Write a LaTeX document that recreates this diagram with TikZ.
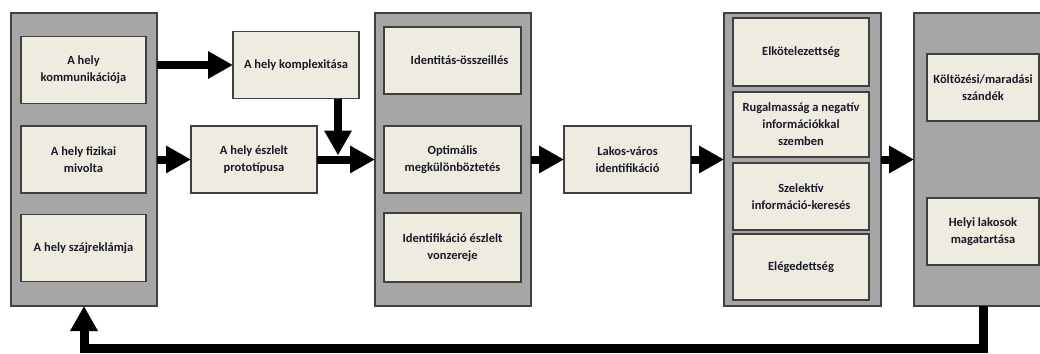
\documentclass[tikz,border=0pt]{standalone}
\usepackage{fontspec}
\setmainfont{Carlito}
\usetikzlibrary{arrows.meta,positioning}
\definecolor{panelgray}{RGB}{166,166,166}
\definecolor{boxfill}{RGB}{238,236,225}
\definecolor{edge}{RGB}{64,64,64}
\definecolor{ink}{RGB}{25,25,40}

\begin{document}
\begin{tikzpicture}[x=1pt,y=-1pt,
    panel/.style={draw=edge,fill=panelgray,line width=1.2pt,minimum width=#1,
                  minimum height=293pt,inner sep=0pt,outer sep=0pt},
    panel/.default=156pt,
    item/.style={draw=edge,fill=boxfill,line width=1.2pt,text=ink,align=center,
                 font=\bfseries\fontsize{12.5}{17}\selectfont,minimum width=#1,
                 minimum height=67pt,inner sep=0pt,outer sep=0pt},
    item/.default=126pt,
    big/.style={line width=8pt,-{Triangle[width=26pt,length=25pt]}}]
   \useasboundingbox (0,0) rectangle (1040,353);
   \clip (0,0) rectangle (1040,353);

   % panels
   \node[panel=146pt] (P1) at (84,159.5)  {};
   \node[panel]       (P2) at (453,159.5) {};
   \node[panel=157pt] (P3) at (802.5,159.5) {};
   \node[panel]       (P4) at (992,159.5) {};

   % first panel
   \node[item=125pt] (kom)  at (83.5,70)    {A hely\\kommunikációja};
   \node[item=125pt] (fiz)  at (83.5,159.5) {A hely fizikai\\mivolta};
   \node[item=125pt] (szaj) at (83.5,248)   {A hely szájreklámja};

   \node[item] (komplex) at (296,65)    {A hely komplexitása};
   \node[item] (proto)   at (254,159.5) {A hely észlelt\\prototípusa};

   % second panel
   \node[item=137pt] (ident) at (452.5,60.5)  {\hspace*{14pt}Identitás-összeillés};
   \node[item=137pt] (optim) at (452.5,159.5) {Optimális\\megkülönböztetés};
   \node[item=137pt,minimum height=69pt] (vonz) at (452.5,247.5) {Identifikáció észlelt\\vonzereje};

   \node[item=127pt] (lakos) at (627.5,159.5) {Lakos-város\\identifikáció};

   % third panel
   \node[item=136pt,minimum height=68pt] (elkot) at (801,52)    {Elkötelezettség};
   \node[item=136pt,minimum height=65pt] (rugal) at (801,124.5) {Rugalmasság a negatív\\információkkal\\szemben};
   \node[item=136pt] (szel)  at (801,196.5) {Szelektív\\információ-keresés};
   \node[item=136pt,minimum height=66pt] (eleg)  at (801,267)   {Elégedettség};

   % fourth panel
   \node[item=112pt] (mov) at (983,87.5)  {Költözési/maradási\\szándék};
   \node[item=112pt] (mag) at (983,231.5) {Helyi lakosok\\magatartása};

   \coordinate (join) at ([xshift=42pt]komplex.south |- proto.east);

   \draw[big] (P1.east |- komplex.west) -- (komplex.west);
   \draw[big] (P1.east) -- (proto.west);
   \draw[big] ([xshift=42pt]komplex.south) -- ([yshift=4pt]join);
   \draw[big] (proto.east) -- (P2.west);
   \draw[big] (P2.east) -- (lakos.west);
   \draw[big] (lakos.east) -- (P3.west);
   \draw[big] (P3.east) -- (P4.west);
   \draw[big,line width=9pt] (mov.south |- P4.south) -- ++(0,42) -| (P1.south);
\end{tikzpicture}
\end{document}
